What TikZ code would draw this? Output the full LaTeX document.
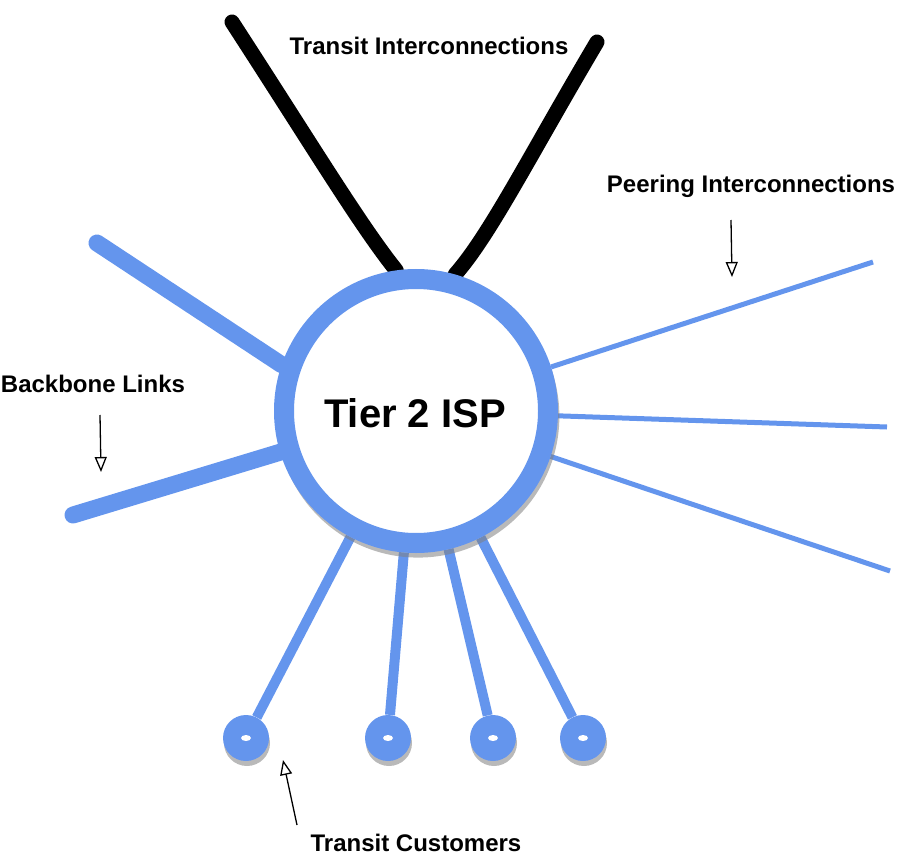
\documentclass[tikz,border=0pt]{standalone}
\usepackage{fontspec}
\setmainfont{Liberation Sans}
\usepackage{tikz}
\usetikzlibrary{arrows.meta, backgrounds, shadows}
\definecolor{ispcolor}{RGB}{100, 149, 237}

\begin{document}
\begin{tikzpicture}[
    x=1pt, y=-1pt,
    caption/.style={font=\fontsize{24}{28}\selectfont\bfseries, anchor=base, inner sep=0pt},
    ring/.style={circle, draw=ispcolor, line width=20pt, fill=white, minimum size=264pt, inner sep=0pt, drop shadow={shadow scale=1.07, shadow xshift=2pt, shadow yshift=-5pt, opacity=0.55}},
    customer/.style={circle, fill=ispcolor, minimum size=46pt, inner sep=0pt, drop shadow={shadow xshift=1pt, shadow yshift=-5pt, opacity=0.55}},
    transit/.style={line width=15pt, line cap=round},
    backbone/.style={draw=ispcolor, line width=17pt, line cap=round},
    peering/.style={draw=ispcolor, line width=5pt},
    access/.style={draw=ispcolor, line width=10pt},
    pointer/.style={line width=1.3pt, -{Triangle[open, length=15pt, width=12pt]}},
]
    \useasboundingbox (0, 0) rectangle (900, 856);

    % ISP
    \node[ring] (isp) at (416, 411) {};
    \node[font=\fontsize{40}{46}\selectfont\bfseries, anchor=base, inner sep=0pt] (isptext) at (415, 427) {Tier 2 ISP};

    % Customers
    \node[customer] (cust1) at (246, 738) {};
    \node[customer] (cust2) at (388, 738) {};
    \node[customer] (cust3) at (493, 738) {};
    \node[customer] (cust4) at (583, 738) {};
    \fill[white] (cust1) ellipse (5 and 3);
    \fill[white] (cust2) ellipse (5 and 3);
    \fill[white] (cust3) ellipse (5 and 3);
    \fill[white] (cust4) ellipse (5 and 3);

    % Labels
    \node[caption] (transitlabel) at (429, 55) {Transit Interconnections};
    \node[caption] (peerlabel) at (751, 193) {Peering Interconnections};
    \node[caption] (backbonelabel) at (93, 392) {Backbone Links};
    \node[caption] (customerlabel) at (416, 851) {Transit Customers};

    % Free ends
    \coordinate (transitL) at (232, 22);
    \coordinate (transitR) at (597, 42);
    \coordinate (backboneA) at (97, 243);
    \coordinate (backboneB) at (73, 515);
    \coordinate (peer1) at (873, 262);
    \coordinate (peer2) at (887, 427);
    \coordinate (peer3) at (890, 571);
    \coordinate (peerarrowA) at (731, 220);
    \coordinate (peerarrowB) at (732, 277);
    \coordinate (backarrowA) at (100, 415);
    \coordinate (backarrowB) at (101, 472);
    \coordinate (custarrowA) at (297, 825);
    \coordinate (custarrowB) at (283, 760);

    % Links
    \begin{scope}[on background layer]
        \draw[transit] (transitL) .. controls (315, 150) and (360, 225) .. (isp.98);
        \draw[transit] (transitR) .. controls (530, 155) and (490, 235) .. (isp.74);
        \draw[backbone] (backboneA) -- (isp.161);
        \draw[backbone] (backboneB) -- (isp);
        \draw[peering] (isp) -- (peer1);
        \draw[peering] (isp) -- (peer2);
        \draw[peering] (isp) -- (peer3);
        \draw[access] (isp) -- (cust1);
        \draw[access] (isp) -- (cust2);
        \draw[access] (isp) -- (cust3);
        \draw[access] (isp) -- (cust4);
    \end{scope}

    % Pointers
    \draw[pointer] (peerarrowA) -- (peerarrowB);
    \draw[pointer] (backarrowA) -- (backarrowB);
    \draw[pointer] (custarrowA) -- (custarrowB);

\end{tikzpicture}
\end{document}
